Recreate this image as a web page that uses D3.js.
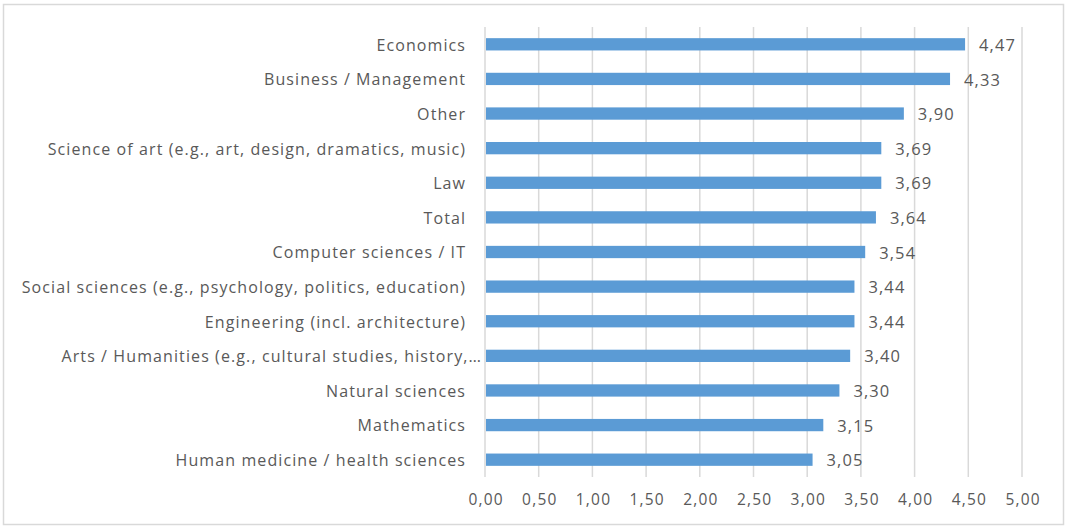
<!DOCTYPE html>
<html>
<head>
<meta charset="utf-8">
<script src="https://cdn.jsdelivr.net/npm/d3@7"></script>
<style>
  html, body { margin: 0; padding: 0; background: #fff; }
  svg { display: block; }
  text { font-family: "Open Sans", sans-serif; fill: #595959; }
</style>
</head>
<body>
<svg id="chart" width="1066" height="527"></svg>
<script>
const categories = [
  "Economics",
  "Business / Management",
  "Other",
  "Science of art (e.g., art, design, dramatics, music)",
  "Law",
  "Total",
  "Computer sciences / IT",
  "Social sciences (e.g., psychology, politics, education)",
  "Engineering (incl. architecture)",
  "Arts / Humanities (e.g., cultural studies, history,…",
  "Natural sciences",
  "Mathematics",
  "Human medicine / health sciences"
];
const values = [4.47, 4.33, 3.90, 3.69, 3.69, 3.64, 3.54, 3.44, 3.44, 3.40, 3.30, 3.15, 3.05];
const ticks = [0, 0.5, 1, 1.5, 2, 2.5, 3, 3.5, 4, 4.5, 5];

const fmt = v => v.toFixed(2).replace(".", ",");

const svg = d3.select("#chart");

// outer border
svg.append("rect")
  .attr("x", 3.5).attr("y", 4.5)
  .attr("width", 1060).attr("height", 520)
  .attr("fill", "#fff")
  .attr("stroke", "#d9d9d9").attr("stroke-width", 1.5);

const x = d3.scaleLinear().domain([0, 5]).range([485, 1022]);
const y = d3.scaleBand().domain(categories).range([27, 477]).paddingInner(0.645).paddingOuter(0.3225);

// gridlines
svg.append("g").selectAll("line").data(ticks).join("line")
  .attr("x1", d => x(d)).attr("x2", d => x(d))
  .attr("y1", 27).attr("y2", 477)
  .attr("stroke", "#d9d9d9").attr("stroke-width", 1.5);

// bars
svg.append("g").selectAll("rect").data(values).join("rect")
  .attr("x", x(0) + 1)
  .attr("y", (d, i) => y(categories[i]))
  .attr("width", d => x(d) - x(0) - 1)
  .attr("height", y.bandwidth())
  .attr("fill", "#5b9bd5");

// value labels
svg.append("g").selectAll("text").data(values).join("text")
  .attr("x", d => x(d) + 14)
  .attr("y", (d, i) => y(categories[i]) + y.bandwidth() / 2)
  .attr("dy", "0.4em")
  .attr("font-size", 16.5)
  .attr("letter-spacing", 1.1)
  .text(d => fmt(d));

// category labels
svg.append("g").selectAll("text").data(categories).join("text")
  .attr("x", d => (d.endsWith("…") ? 481 : 465) + 1.1)
  .attr("y", d => y(d) + y.bandwidth() / 2)
  .attr("dy", "0.4em")
  .attr("text-anchor", "end")
  .attr("font-size", 16)
  .attr("letter-spacing", 1.1)
  .text(d => d);

// x axis tick labels
const xAxis = d3.axisBottom(x).tickValues(ticks).tickSize(0).tickPadding(0).tickFormat(fmt);
const ga = svg.append("g").attr("transform", "translate(0,505)").call(xAxis);
ga.select(".domain").remove();
ga.selectAll("text")
  .attr("font-size", 15.5)
  .attr("font-family", "'Open Sans', sans-serif")
  .attr("fill", "#595959")
  .attr("letter-spacing", 1.2)
  .attr("dx", 0.6)
  .attr("dy", 0);
</script>
</body>
</html>
